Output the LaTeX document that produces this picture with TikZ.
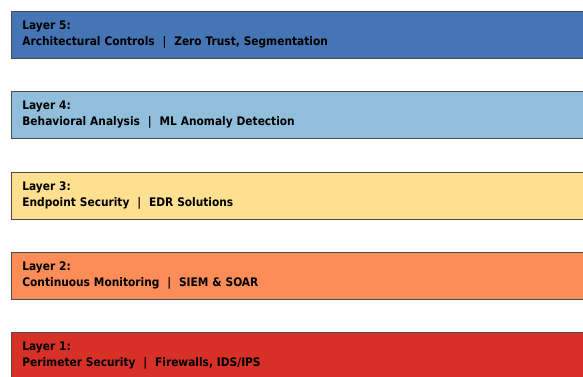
\documentclass[tikz,border=0pt]{standalone}
\usepackage{fontspec}
\setmainfont{DejaVu Sans Condensed}
\definecolor{layerfive}{HTML}{4575B4}
\definecolor{layerfour}{HTML}{91BFDB}
\definecolor{layerthree}{HTML}{FEE090}
\definecolor{layertwo}{HTML}{FC8D59}
\definecolor{layerone}{HTML}{D73027}
\begin{document}
\begin{tikzpicture}[x=1pt,y=1pt,
        layer/.style={draw=black!70, line width=0.8pt, anchor=north west,
          minimum height=47pt, text width=578pt, inner xsep=11pt, align=left,
          font=\bfseries\fontsize{11.8}{16}\selectfont}]
        \useasboundingbox (0,0) rectangle (583,-376);
        \clip (0,0) rectangle (583,-376);
        \node[layer, fill=layerfive] (layer5) at (11,-11) {Layer 5:\\Architectural Controls\ \ |\ \ Zero Trust, Segmentation};
        \node[layer, fill=layerfour] (layer4) at (11,-91) {Layer 4:\\Behavioral Analysis\ \ |\ \ ML Anomaly Detection};
        \node[layer, fill=layerthree] (layer3) at (11,-171.5) {Layer 3:\\Endpoint Security\ \ |\ \ EDR Solutions};
        \node[layer, fill=layertwo] (layer2) at (11,-252) {Layer 2:\\Continuous Monitoring\ \ |\ \ SIEM \& SOAR};
        \node[layer, fill=layerone] (layer1) at (11,-332) {Layer 1:\\Perimeter Security\ \ |\ \ Firewalls, IDS/IPS};
    \end{tikzpicture}
\end{document}
